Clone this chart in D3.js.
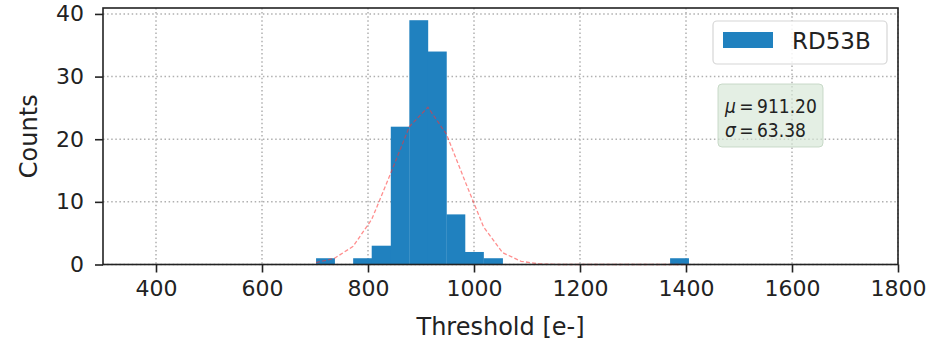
<!DOCTYPE html>
<html lang="en">
<head>
    <meta charset="UTF-8">
    <title>Threshold histogram</title>
    <script src="https://d3js.org/d3.v7.min.js"></script>
    <style>
        body {
            margin: 0;
            background: white;
        }
        svg text {
            font-family: "DejaVu Sans", sans-serif;
            fill: #222;
        }
        .tick-text {
            font-size: 22px;
        }
        .axis-label {
            font-size: 24px;
        }
    </style>
</head>
<body>
    <script>
        // histogram data
        var binEdges = [702, 737, 772, 807, 843, 878, 913, 948, 983, 1018, 1054,
                        1089, 1124, 1159, 1194, 1229, 1265, 1300, 1335, 1370, 1405];
        var counts = [1, 0, 1, 3, 22, 39, 34, 8, 2, 1, 0, 0, 0, 0, 0, 0, 0, 0, 0, 1];
        // gaussian fit, sampled at the bin edges
        var fitValues = [0.3, 1.0, 2.9, 7.2, 14.6, 22.0, 25.1, 20.8, 13.3, 6.0, 1.9,
                         0.5, 0.1, 0, 0, 0, 0, 0, 0, 0, 0];
        var xTicks = [400, 600, 800, 1000, 1200, 1400, 1600, 1800];
        var yTicks = [0, 10, 20, 30, 40];
        var seriesName = "RD53B";
        var statNames = ["μ", "σ"];
        var statValues = ["911.20", "63.38"];

        var w = 947;
        var h = 344;
        var plotLeft = 103, plotRight = 898, plotTop = 8, plotBottom = 264.5;
        var barColor = "#2081bf";

        var svg = d3.select("body")
            .append("svg")
            .attr("width", w)
            .attr("height", h);

        var xScale = d3.scaleLinear()
            .domain([300, 1800])
            .range([plotLeft, plotRight]);

        var yScale = d3.scaleLinear()
            .domain([0, 40.95])
            .range([plotBottom, plotTop]);

        // dotted grid
        svg.append("g")
            .selectAll("line")
            .data(xTicks)
            .enter()
            .append("line")
            .attr("x1", function (d) { return xScale(d); })
            .attr("x2", function (d) { return xScale(d); })
            .attr("y1", plotTop)
            .attr("y2", plotBottom)
            .attr("stroke", "#b0b0b0")
            .attr("stroke-width", 1.5)
            .attr("stroke-dasharray", "1.5,2.6");

        svg.append("g")
            .selectAll("line")
            .data(yTicks)
            .enter()
            .append("line")
            .attr("x1", plotLeft)
            .attr("x2", plotRight)
            .attr("y1", function (d) { return yScale(d); })
            .attr("y2", function (d) { return yScale(d); })
            .attr("stroke", "#b0b0b0")
            .attr("stroke-width", 1.5)
            .attr("stroke-dasharray", "1.5,2.6");

        // bars
        svg.append("g")
            .selectAll("rect")
            .data(counts)
            .enter()
            .append("rect")
            .attr("x", function (d, i) { return xScale(binEdges[i]); })
            .attr("width", function (d, i) { return xScale(binEdges[i + 1]) - xScale(binEdges[i]) + 0.3; })
            .attr("y", function (d) { return yScale(d); })
            .attr("height", function (d) { return plotBottom - yScale(d); })
            .attr("fill", barColor);

        // fit curve
        var line = d3.line()
            .x(function (d, i) { return xScale(binEdges[i]); })
            .y(function (d) { return yScale(d); });

        svg.append("path")
            .datum(fitValues)
            .attr("d", line)
            .attr("fill", "none")
            .attr("stroke", "rgba(255,50,50,0.55)")
            .attr("stroke-width", 1.3)
            .attr("stroke-dasharray", "4,2.2");

        // axes
        var xAxis = d3.axisBottom(xScale)
            .tickValues(xTicks)
            .tickFormat(d3.format("d"))
            .tickSize(8)
            .tickPadding(8);
        var yAxis = d3.axisLeft(yScale)
            .tickValues(yTicks)
            .tickFormat(d3.format("d"))
            .tickSize(8)
            .tickPadding(11);

        var gx = svg.append("g")
            .attr("transform", "translate(0," + plotBottom + ")")
            .call(xAxis);
        var gy = svg.append("g")
            .attr("transform", "translate(" + plotLeft + ",0)")
            .call(yAxis);

        [gx, gy].forEach(function (g) {
            g.select(".domain").remove();
            g.selectAll(".tick line").attr("stroke", "#222").attr("stroke-width", 1.6);
            g.selectAll(".tick text")
                .attr("class", "tick-text")
                .attr("fill", "#222")
                .style("font-family", "DejaVu Sans");
        });

        // frame
        svg.append("rect")
            .attr("x", plotLeft)
            .attr("y", plotTop)
            .attr("width", plotRight - plotLeft)
            .attr("height", plotBottom - plotTop)
            .attr("fill", "none")
            .attr("stroke", "#222")
            .attr("stroke-width", 1.6);

        svg.append("text")
            .attr("class", "axis-label")
            .attr("x", (plotLeft + plotRight) / 2)
            .attr("y", 335)
            .attr("text-anchor", "middle")
            .text("Threshold [e-]");

        svg.append("text")
            .attr("class", "axis-label")
            .attr("transform", "translate(37," + (plotTop + plotBottom) / 2 + ") rotate(-90)")
            .attr("text-anchor", "middle")
            .text("Counts");

        // legend
        var legend = svg.append("g");
        legend.append("rect")
            .attr("x", 713)
            .attr("y", 21)
            .attr("width", 174)
            .attr("height", 43)
            .attr("rx", 4)
            .attr("fill", "rgba(255,255,255,0.85)")
            .attr("stroke", "#d6d6d6")
            .attr("stroke-width", 1.2);
        legend.append("rect")
            .attr("x", 723)
            .attr("y", 32)
            .attr("width", 50)
            .attr("height", 16)
            .attr("fill", barColor);
        legend.append("text")
            .attr("x", 792)
            .attr("y", 48.5)
            .style("font-size", "23px")
            .text(seriesName);

        // stats box
        var stats = svg.append("g");
        stats.append("rect")
            .attr("x", 718)
            .attr("y", 84)
            .attr("width", 105)
            .attr("height", 63)
            .attr("rx", 4)
            .attr("fill", "rgba(214,230,214,0.65)")
            .attr("stroke", "rgba(190,210,190,0.8)")
            .attr("stroke-width", 1);

        statNames.forEach(function (name, i) {
            var t = stats.append("text")
                .attr("x", 725)
                .attr("y", 113 + i * 23.5)
                .style("font-size", "19px")
                .style("font-family", "'DejaVu Sans Condensed', 'DejaVu Sans'");
            t.append("tspan").style("font-style", "italic").text(name);
            t.append("tspan").text("\u2009=\u2009" + statValues[i]);
        });
    </script>
</body>
</html>
